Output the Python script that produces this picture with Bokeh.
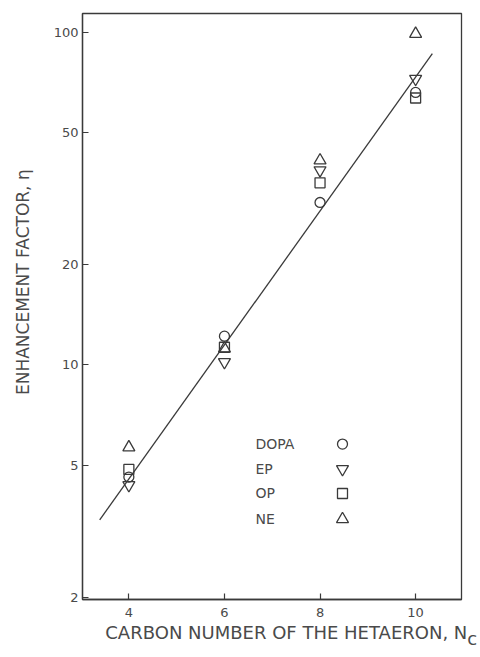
from bokeh.plotting import figure
from bokeh.models import Range1d, FixedTicker
from bokeh.embed import file_html
from bokeh.resources import INLINE
from bokeh.core.properties import value

# ---- data ----
carbon = [4, 6, 8, 10]
dopa = [4.6, 12.2, 30.8, 66.0]
ep = [4.35, 10.2, 38.5, 72.5]
op = [4.85, 11.3, 35.3, 63.5]
ne = [5.65, 11.2, 41.2, 99.0]

fit_x = [3.39, 10.35]
fit_y = [3.42, 86.4]

x_ticks = [4, 6, 8, 10]
y_ticks = [2, 5, 10, 20, 50, 100]

series_names = ["DOPA", "EP", "OP", "NE"]
series_markers = ["circle", "inverted_triangle", "square", "triangle"]

INK = "#3a3a3a"
TXT = "#4a4a4a"
FONT = "DejaVu Sans"
NB = "\u00a0"

p = figure(width=480, height=657, y_axis_type="log",
           x_range=Range1d(3.03, 10.96), y_range=Range1d(1.97, 114),
           output_backend="svg", toolbar_location=None,
           min_border_left=82, min_border_right=19,
           min_border_top=13, min_border_bottom=58,
           background_fill_color="#ffffff", border_fill_color="#ffffff")

p.xgrid.visible = False
p.ygrid.visible = False
p.outline_line_color = INK
p.outline_line_width = 1.3

for ax in (p.xaxis[0], p.yaxis[0]):
    ax.axis_line_color = INK
    ax.axis_line_width = 1.3
    ax.major_tick_in = 6
    ax.major_tick_out = 0
    ax.major_tick_line_color = INK
    ax.major_tick_line_width = 1.2
    ax.minor_tick_line_color = None
    ax.major_label_text_font = FONT
    ax.major_label_text_font_size = "13px"
    ax.major_label_text_color = TXT
    ax.axis_label_text_font = FONT
    ax.axis_label_text_font_style = "normal"
    ax.axis_label_text_color = TXT

p.xaxis.ticker = FixedTicker(ticks=x_ticks)
p.yaxis.ticker = FixedTicker(ticks=y_ticks)
p.yaxis.major_label_overrides = {t: str(t) for t in y_ticks}
p.xaxis.major_label_standoff = 8
p.yaxis.major_label_standoff = 4

p.yaxis.axis_label = NB * 9 + "ENHANCEMENT FACTOR, η"
p.yaxis.axis_label_text_font_size = "17px"
p.yaxis.axis_label_standoff = 18

# x title with the subscript "c" of N_c on a tightly spaced second line
p.xaxis.axis_label = (NB * 5 + "CARBON NUMBER OF THE HETAERON, N" + "\n"
                      + NB * 70 + "c")
p.xaxis.axis_label_text_font_size = "18px"
p.xaxis.axis_label_text_line_height = 0.3
p.xaxis.axis_label_standoff = 2

# fitted line
p.line(fit_x, fit_y, line_color=INK, line_width=1.3)

# data points (open markers)
for ys, mk in zip([dopa, ep, op, ne], series_markers):
    size = 10 if mk in ("circle", "square") else 12
    p.scatter(carbon, ys, marker=mk, size=size, fill_color=None,
              line_color=INK, line_width=1.3)

# legend block (text on the left, symbol on the right)
leg_text_x = 6.65
leg_sym_x = 8.47
leg_y = [5.78, 4.86, 4.105, 3.436]
p.text(x=[leg_text_x] * 4, y=leg_y, text=series_names,
       text_font=value(FONT), text_font_size="14px", text_color=TXT,
       text_align="left", text_baseline="middle")
for yy, mk in zip(leg_y, series_markers):
    size = 10 if mk in ("circle", "square") else 12
    p.scatter([leg_sym_x], [yy], marker=mk, size=size, fill_color=None,
              line_color=INK, line_width=1.3)

open("out.html", "w").write(file_html(p, INLINE))
